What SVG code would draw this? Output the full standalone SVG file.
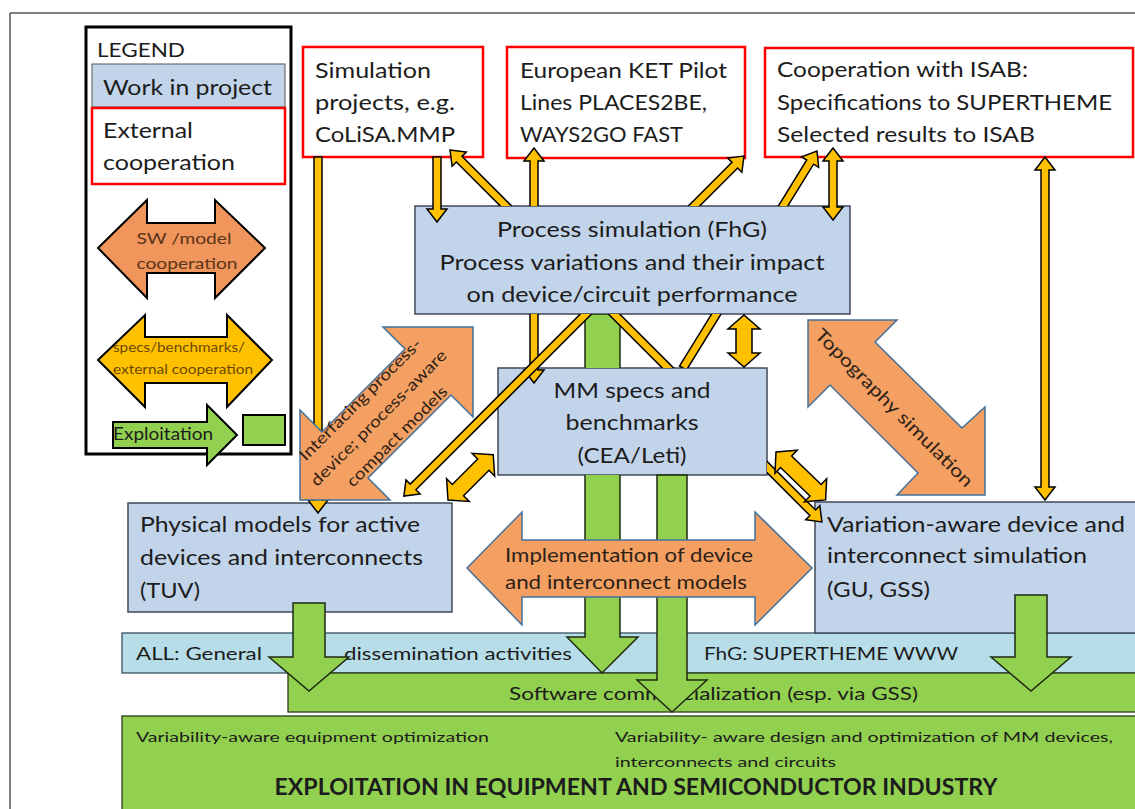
<svg xmlns="http://www.w3.org/2000/svg" width="1135" height="809" viewBox="0 0 1135 809">
<defs>
<style>
.t{font-family:Lato,"Liberation Sans",sans-serif;fill:#1c1c1c}
.f21{font-size:21px}
.f16{font-size:16.5px}
.f14{font-size:14px}
.mid{text-anchor:middle}
.box{fill:#c2d4ea;stroke:#3f4a5a;stroke-width:1.5}
.ext{fill:#ffffff;stroke:#ff0000;stroke-width:2.5}
.bar{fill:#b7dde8;stroke:#34505a;stroke-width:1.3}
.grbar{fill:#92d050;stroke:#2a3a1a;stroke-width:1.3}
.yl{fill:#ffc000;stroke:#000000;stroke-width:1.5}
.gr{fill:#92d050;stroke:#1e2a12;stroke-width:1.5}
.or{fill:#f4a062;stroke:#41719c;stroke-width:1.5}
.ot{fill:#2e2218}
</style>
<clipPath id="cpP"><path clip-rule="evenodd" d="M0,0H1135V809H0Z M415,206H850V314H415Z"/></clipPath>
<clipPath id="cpPM"><path clip-rule="evenodd" d="M0,0H1135V809H0Z M415,206H850V314H415Z M498,368H767V475H498Z"/></clipPath>
</defs>
<rect x="0" y="0" width="1135" height="809" fill="#ffffff"/>
<g id="frame" stroke="#555" stroke-width="1.5" fill="none">
<path d="M10,13H1135 M10,13V809"/>
</g>

<g id="legend">
<rect x="86" y="27" width="205" height="427" fill="#fff" stroke="#000" stroke-width="3"/>
<text class="t" x="97" y="57" font-size="20" textLength="88" lengthAdjust="spacingAndGlyphs">LEGEND</text>
<rect x="92" y="64" width="193" height="43" fill="#c2d4ea" stroke="#555" stroke-width="1"/>
<text class="t f21" x="103" y="95" textLength="169" lengthAdjust="spacingAndGlyphs">Work in project</text>
<rect class="ext" x="92" y="108" width="193" height="76"/>
<text class="t f21" x="103" y="138" textLength="90" lengthAdjust="spacingAndGlyphs">External</text>
<text class="t f21" x="103" y="170" textLength="132" lengthAdjust="spacingAndGlyphs">cooperation</text>
<polygon points="98,248 147,200 147,223 215,223 215,200 265,248 215,298 215,273 147,273 147,298" fill="#f0955c" stroke="#000" stroke-width="2"/>
<text class="t mid" x="184" y="244" font-size="15" fill="#5a3418" style="fill:#5a3418" textLength="95" lengthAdjust="spacingAndGlyphs">SW /model</text>
<text class="t mid" x="187" y="269" font-size="15" style="fill:#5a3418" textLength="101" lengthAdjust="spacingAndGlyphs">cooperation</text>
<polygon points="98,360 145,315 145,337 227,337 227,315 272,360 227,407 227,383 145,383 145,407" fill="#ffc000" stroke="#000" stroke-width="2"/>
<text class="t mid" x="179" y="352" font-size="13" style="fill:#6b4800" textLength="132" lengthAdjust="spacingAndGlyphs">specs/benchmarks/</text>
<text class="t mid" x="183" y="374" font-size="13" style="fill:#6b4800" textLength="140" lengthAdjust="spacingAndGlyphs">external cooperation</text>
<polygon points="113,422 207,422 207,405 237,435 207,465 207,448 113,448" fill="#92d050" stroke="#000" stroke-width="2"/>
<text class="t" x="113" y="440" font-size="17" textLength="100" lengthAdjust="spacingAndGlyphs">Exploitation</text>
<rect x="243" y="415" width="42" height="30" fill="#92d050" stroke="#000" stroke-width="2"/>
</g>

<g id="dissemination">
<rect class="bar" x="122" y="633" width="1020" height="40"/>
<text class="t f16" x="136" y="660" textLength="126" lengthAdjust="spacingAndGlyphs">ALL: General</text>
<text class="t f16" x="344" y="660" textLength="228" lengthAdjust="spacingAndGlyphs">dissemination activities</text>
<text class="t f16" x="704" y="660" textLength="254" lengthAdjust="spacingAndGlyphs">FhG: SUPERTHEME WWW</text>
</g>
<g id="software">
<rect class="grbar" x="288" y="673" width="860" height="39"/>
<text class="t f16" x="509" y="700" textLength="409" lengthAdjust="spacingAndGlyphs">Software commercialization (esp. via GSS)</text>
</g>
<g id="industry">
<rect class="grbar" x="122" y="716" width="1020" height="100"/>
<text class="t f14" x="136" y="742" textLength="353" lengthAdjust="spacingAndGlyphs">Variability-aware equipment optimization</text>
<text class="t f14" x="615" y="742" textLength="498" lengthAdjust="spacingAndGlyphs">Variability- aware design and optimization of MM devices,</text>
<text class="t f14" x="615" y="767" textLength="221" lengthAdjust="spacingAndGlyphs">interconnects and circuits</text>
<text class="t mid" x="636" y="795" font-size="23" font-weight="bold" textLength="723" lengthAdjust="spacingAndGlyphs">EXPLOITATION IN EQUIPMENT AND SEMICONDUCTOR INDUSTRY</text>
</g>

<g id="simulation-projects">
<rect class="ext" x="303" y="47" width="180" height="110"/>
<text class="t f21" x="315" y="78" textLength="116" lengthAdjust="spacingAndGlyphs">Simulation</text>
<text class="t f21" x="315" y="110" textLength="140" lengthAdjust="spacingAndGlyphs">projects, e.g.</text>
<text class="t f21" x="315" y="142" textLength="140" lengthAdjust="spacingAndGlyphs">CoLiSA.MMP</text>
</g>
<g id="ket-pilot-lines">
<rect class="ext" x="507" y="47" width="238" height="111"/>
<text class="t f21" x="520" y="78" textLength="207" lengthAdjust="spacingAndGlyphs">European KET Pilot</text>
<text class="t f21" x="520" y="110" textLength="187" lengthAdjust="spacingAndGlyphs">Lines PLACES2BE,</text>
<text class="t f21" x="520" y="142" textLength="163" lengthAdjust="spacingAndGlyphs">WAYS2GO FAST</text>
</g>
<g id="isab">
<rect class="ext" x="765" y="48" width="368" height="109"/>
<text class="t f21" x="777" y="77" textLength="251" lengthAdjust="spacingAndGlyphs">Cooperation with ISAB:</text>
<text class="t f21" x="777" y="110" textLength="335" lengthAdjust="spacingAndGlyphs">Specifications to SUPERTHEME</text>
<text class="t f21" x="777" y="142" textLength="258" lengthAdjust="spacingAndGlyphs">Selected results to ISAB</text>
</g>
<g id="process-simulation">
<rect class="box" x="415" y="206" width="435" height="108"/>
<text class="t f21 mid" x="632" y="237" textLength="270" lengthAdjust="spacingAndGlyphs">Process simulation (FhG)</text>
<text class="t f21 mid" x="632" y="270" textLength="385" lengthAdjust="spacingAndGlyphs">Process variations and their impact</text>
<text class="t f21 mid" x="632" y="302" textLength="331" lengthAdjust="spacingAndGlyphs">on device/circuit performance</text>
</g>
<g id="mm-specs">
<rect class="box" x="498" y="368" width="269" height="107"/>
<text class="t f21 mid" x="632" y="398" textLength="157" lengthAdjust="spacingAndGlyphs">MM specs and</text>
<text class="t f21 mid" x="632" y="430" textLength="133" lengthAdjust="spacingAndGlyphs">benchmarks</text>
<text class="t f21 mid" x="632" y="463" textLength="109" lengthAdjust="spacingAndGlyphs">(CEA/Leti)</text>
</g>
<g id="physical-models">
<rect class="box" x="128" y="503" width="324" height="109"/>
<text class="t f21" x="140" y="532" textLength="280" lengthAdjust="spacingAndGlyphs">Physical models for active</text>
<text class="t f21" x="140" y="565" textLength="283" lengthAdjust="spacingAndGlyphs">devices and interconnects</text>
<text class="t f21" x="140" y="598" textLength="60" lengthAdjust="spacingAndGlyphs">(TUV)</text>
</g>
<g id="variation-aware">
<rect class="box" x="815" y="502" width="330" height="131"/>
<text class="t f21" x="827" y="532" textLength="298" lengthAdjust="spacingAndGlyphs">Variation-aware device and</text>
<text class="t f21" x="827" y="563" textLength="260" lengthAdjust="spacingAndGlyphs">interconnect simulation</text>
<text class="t f21" x="827" y="597" textLength="103" lengthAdjust="spacingAndGlyphs">(GU, GSS)</text>
</g>

<g id="connectors">
<g id="exploitation-arrows">
<g clip-path="url(#cpPM)"><path class="gr" d="M585,314 V637 H567 L602,673 L638,637 H620 V314 Z"/></g>
<path class="gr" d="M657,475 V680 H637 L672,712 L707,680 H687 V475 Z"/>
<path class="gr" d="M293,603 V657 H269 L309,691 L349,657 H325 V603 Z"/>
<path class="gr" d="M1015,595 V657 H991 L1031,691 L1071,657 H1047 V595 Z"/>
</g>
<g id="yellow-arrows">
<path class="yl" transform="translate(318,157) rotate(90)" d="M0,-4 H343 V-10 L356,0 L343,10 V4 H0 Z"/>
<path class="yl" transform="translate(437,157) rotate(90)" d="M0,-4 H52 V-10 L65,0 L52,10 V4 H0 Z"/>
<g clip-path="url(#cpP)"><path class="yl" transform="translate(534,148) rotate(90)" d="M0,0 L13,-10 V-4 H222 V-10 L235,0 L222,10 V4 H13 V10 Z"/></g>
<g clip-path="url(#cpPM)"><path class="yl" transform="translate(450,150) rotate(45)" d="M0,0 L13,-10 V-4 H513 V-10 L526,0 L513,10 V4 H13 V10 Z"/></g>
<g clip-path="url(#cpP)"><path class="yl" transform="translate(744,156) rotate(135)" d="M0,0 L13,-10 V-4 H468 V-10 L481,0 L468,10 V4 H13 V10 Z"/></g>
<g clip-path="url(#cpPM)"><path class="yl" transform="translate(683,368) rotate(-58.3)" d="M0,-4 H242 V-10 L255,0 L242,10 V4 H0 Z"/></g>
<path class="yl" transform="translate(833,148) rotate(90)" d="M0,0 L13,-10 V-4 H59 V-10 L72,0 L59,10 V4 H13 V10 Z"/>
<path class="yl" transform="translate(1045,157) rotate(90)" d="M0,0 L13,-10 V-4 H330 V-10 L343,0 L330,10 V4 H13 V10 Z"/>
<path class="yl" transform="translate(744,315) rotate(90)" d="M0,0 L14,-16 V-8 H38 V-16 L52,0 L38,16 V8 H14 V16 Z"/>
<path class="yl" transform="translate(448,500) rotate(-45)" d="M0,0 L14,-16 V-8 H50 V-16 L64,0 L50,16 V8 H14 V16 Z"/>
<path class="yl" transform="translate(776,452) rotate(44)" d="M0,0 L14,-16 V-8 H55 V-16 L69,0 L55,16 V8 H14 V16 Z"/>
</g>
<g id="model-arrows">
<polygon class="or" points="467,568 522,512 522,540 755,540 755,512 812,568 755,625 755,597 522,597 522,625"/>
<text class="t ot" x="505" y="562" font-size="20" textLength="248" lengthAdjust="spacingAndGlyphs">Implementation of device</text>
<text class="t ot" x="505" y="589" font-size="20" textLength="242" lengthAdjust="spacingAndGlyphs">and interconnect models</text>
<polygon class="or" points="473,327 473,417 451,395 368,478 390,500 300,500 300,410 322,432 405,349 383,327"/>
<g transform="translate(386,414) rotate(-45)">
<text class="t ot mid" x="-8" y="-23" font-size="16" textLength="165" lengthAdjust="spacingAndGlyphs">Interfacing process-</text>
<text class="t ot mid" x="-8" y="3" font-size="16" textLength="185" lengthAdjust="spacingAndGlyphs">device; process-aware</text>
<text class="t ot mid" x="-8" y="29" font-size="16" textLength="135" lengthAdjust="spacingAndGlyphs">compact models</text>
</g>
<polygon class="or" points="808,320 897,320 875,342 962,428 985,407 985,495 897,495 918,473 830,385 808,407"/>
<text class="t ot mid" transform="translate(894,408) rotate(45)" x="0" y="6" font-size="18" textLength="215" lengthAdjust="spacingAndGlyphs">Topography simulation</text>
</g>
</g>
</svg>
